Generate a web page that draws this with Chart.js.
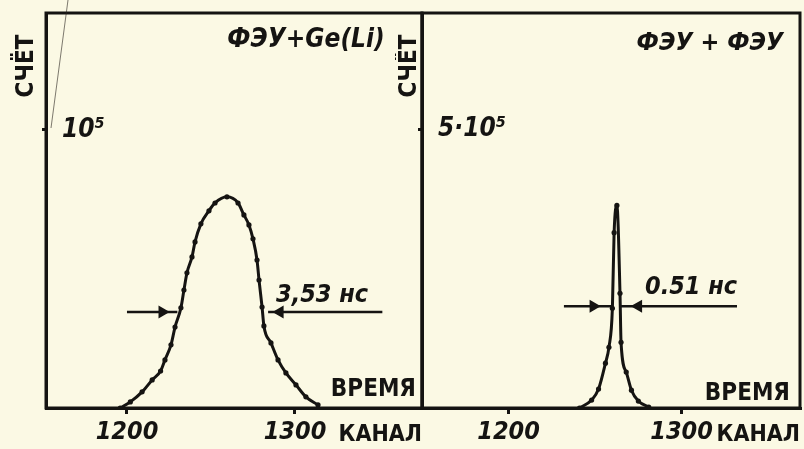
<!DOCTYPE html>
<html lang="ru">
<head>
<meta charset="utf-8">
<title>ФЭУ+Ge(Li) / ФЭУ+ФЭУ</title>
<script src="https://cdn.jsdelivr.net/npm/chart.js@4/dist/chart.umd.min.js"></script>
<style>
    html, body { margin: 0; padding: 0; background: #fbf9e4; }
    #wrap { position: relative; width: 804px; height: 449px; overflow: hidden; }
    #chart-1 { position: absolute; left: 0; top: 0; }
    #chart-2 { position: absolute; left: 395px; top: 0; }
</style>
</head>
<body>
<div id="wrap">
    <canvas id="chart-1" width="430" height="449"></canvas>
    <canvas id="chart-2" width="409" height="449"></canvas>
</div>
<script>
// Données : canal -> nombre de coups
const channelTicks = [1200, 1300];

const geliChannels = [1196, 1202, 1209, 1215, 1220, 1222.6, 1226.2, 1228.6, 1232.1, 1233.9, 1235.7, 1238.7, 1240.5, 1244, 1248.8, 1252.4, 1259.5, 1266.1, 1269.6, 1272.6, 1275, 1277.4, 1278.6, 1280.4, 1281.5, 1285.7, 1289.9, 1294.6, 1300.6, 1306.5, 1313.7];
const geliCounts = [0, 2200, 5800, 10100, 13300, 17300, 22700, 29100, 36000, 42400, 48600, 54300, 59700, 66200, 70900, 73700, 75900, 73700, 69400, 65800, 60800, 53200, 46000, 36300, 29500, 23400, 17300, 12600, 8300, 4000, 1100];
const geliYTicks = [100000];
const geliYLabels = ['10⁵'];
const geliWidth = '3,53 нс';
// flèches de la largeur à mi-hauteur : début, pointe, fin
const geliArrowLeft = [1200, 1221, 1230];
const geliArrowRight = [1352, 1291, 1284];
const geliArrowLevel = 34500;

const pmtChannels = [1241, 1248, 1252, 1256, 1258, 1260, 1261, 1262.6, 1264.4, 1265, 1268, 1271, 1275, 1281];
const pmtCounts = [0, 14300, 34000, 80600, 109000, 179000, 315000, 364000, 206000, 118000, 64500, 32000, 12500, 1800];
const pmtYTicks = [500000];
const pmtYLabels = ['5·10⁵'];
const pmtWidth = '0.51 нс';
const pmtArrowLeft = [1232, 1249, 1260];
const pmtArrowRight = [1332, 1275, 1265];
const pmtArrowLevel = 183000;

const ink = '#151412';
const hand = 'DejaVu Sans Condensed, DejaVu Sans, sans-serif';

// Plugin : cadre du graphique et textes libres
const notesPlugin = {
    id: 'notes',
    afterDraw(chart, args, opts) {
        const ctx = chart.ctx;
        const a = chart.chartArea;
        ctx.save();
        ctx.strokeStyle = ink;
        ctx.lineWidth = 3;
        ctx.strokeRect(a.left, a.top, a.right - a.left, a.bottom - a.top);
        ctx.fillStyle = ink;
        ctx.textBaseline = 'middle';
        (opts.items || []).forEach(item => {
            ctx.save();
            ctx.font = item.font;
            ctx.textAlign = item.align || 'left';
            ctx.translate(item.x, item.y);
            if (item.rotate) ctx.rotate(item.rotate * Math.PI / 180);
            ctx.fillText(item.text, 0, 0);
            ctx.restore();
        });
        if (opts.stroke) {
            ctx.lineWidth = 1;
            ctx.strokeStyle = 'rgba(40,35,30,0.6)';
            ctx.beginPath();
            ctx.moveTo(opts.stroke[0], opts.stroke[1]);
            ctx.lineTo(opts.stroke[2], opts.stroke[3]);
            ctx.stroke();
        }
        ctx.restore();
    }
};

function toPoints(xs, ys) {
    return xs.map((x, i) => ({ x: x, y: ys[i] }));
}

function arrowSet(xs, level, rotation) {
    return {
        type: 'line',
        data: xs.map(x => ({ x: x, y: level })),
        borderColor: ink,
        backgroundColor: ink,
        borderWidth: 2.5,
        pointStyle: 'triangle',
        pointRadius: [0, 5, 0],
        rotation: rotation,
        tension: 0
    };
}

function makeChart(id, cfg) {
    const ctx = document.getElementById(id).getContext('2d');
    return new Chart(ctx, {
        type: 'line',
        data: {
            datasets: [
                {
                    data: toPoints(cfg.xs, cfg.ys),
                    borderColor: ink,
                    backgroundColor: ink,
                    borderWidth: 3,
                    pointRadius: 2.6,
                    pointBorderWidth: 0,
                    cubicInterpolationMode: 'monotone'
                },
                arrowSet(cfg.arrowLeft, cfg.level, 90),
                arrowSet(cfg.arrowRight, cfg.level, -90)
            ]
        },
        options: {
            responsive: false,
            animation: false,
            layout: { padding: { top: 13, right: cfg.padRight, bottom: 0, left: 0 } },
            plugins: {
                legend: { display: false },
                tooltip: { enabled: false },
                notes: { items: cfg.notes, stroke: cfg.stroke }
            },
            scales: {
                x: {
                    type: 'linear',
                    min: cfg.xMin,
                    max: cfg.xMax,
                    afterFit: s => { s.height = 41; s.paddingLeft = 0; s.paddingRight = 0; },
                    afterBuildTicks: s => { s.ticks = channelTicks.map(v => ({ value: v })); },
                    ticks: {
                        color: ink,
                        padding: 3,
                        maxRotation: 0,
                        font: { family: hand, size: 25, style: 'italic', weight: 'bold' },
                        callback: v => String(v)
                    },
                    grid: { drawOnChartArea: false, color: ink, lineWidth: 3, tickLength: 6 },
                    border: { color: ink, width: 3 },
                    title: {
                        display: true,
                        text: 'КАНАЛ',
                        align: 'end',
                        color: ink,
                        padding: 0,
                        font: { family: hand, size: 23, weight: 'bold' }
                    }
                },
                y: {
                    min: 0,
                    max: cfg.yMax,
                    afterFit: s => { s.width = cfg.yWidth; s.paddingTop = 0; s.paddingBottom = 0; },
                    afterBuildTicks: s => { s.ticks = cfg.yTicks.map(v => ({ value: v })); },
                    ticks: {
                        mirror: true,
                        padding: 16,
                        color: ink,
                        font: { family: hand, size: 26, style: 'italic', weight: 'bold' },
                        callback: (v, i) => cfg.yLabels[i]
                    },
                    grid: { drawOnChartArea: false, color: ink, lineWidth: 3, tickLength: 4 },
                    border: { color: ink, width: 3 },
                    title: { display: false }
                }
            }
        },
        plugins: [notesPlugin]
    });
}

document.addEventListener('DOMContentLoaded', () => {
    makeChart('chart-1', {
        xs: geliChannels, ys: geliCounts,
        arrowLeft: geliArrowLeft, arrowRight: geliArrowRight, level: geliArrowLevel,
        xMin: 1151.8, xMax: 1375.6, yMax: 142000,
        yTicks: geliYTicks, yLabels: geliYLabels,
        yWidth: 46, padRight: 8,
        stroke: [68, 0, 51, 128],
        notes: [
            { text: 'СЧЁТ', x: 27, y: 66, align: 'center', rotate: -90, font: 'bold 24px ' + hand },
            { text: 'ФЭУ+Ge(Li)', x: 306, y: 40, align: 'center', font: 'italic bold 26px ' + hand },
            { text: 'ВРЕМЯ', x: 416, y: 390, align: 'right', font: 'bold 24px ' + hand },
            { text: geliWidth, x: 276, y: 295, align: 'left', font: 'italic bold 25px ' + hand }
        ]
    });

    makeChart('chart-2', {
        xs: pmtChannels, ys: pmtCounts,
        arrowLeft: pmtArrowLeft, arrowRight: pmtArrowRight, level: pmtArrowLevel,
        xMin: 1150, xMax: 1368.4, yMax: 709700,
        yTicks: pmtYTicks, yLabels: pmtYLabels,
        yWidth: 27, padRight: 2,
        notes: [
            { text: 'СЧЁТ', x: 15, y: 66, align: 'center', rotate: -90, font: 'bold 24px ' + hand },
            { text: 'ФЭУ + ФЭУ', x: 315, y: 43, align: 'center', font: 'italic bold 25px ' + hand },
            { text: 'ВРЕМЯ', x: 395, y: 394, align: 'right', font: 'bold 24px ' + hand },
            { text: pmtWidth, x: 250, y: 287, align: 'left', font: 'italic bold 25px ' + hand }
        ]
    });
});
</script>
</body>
</html>
